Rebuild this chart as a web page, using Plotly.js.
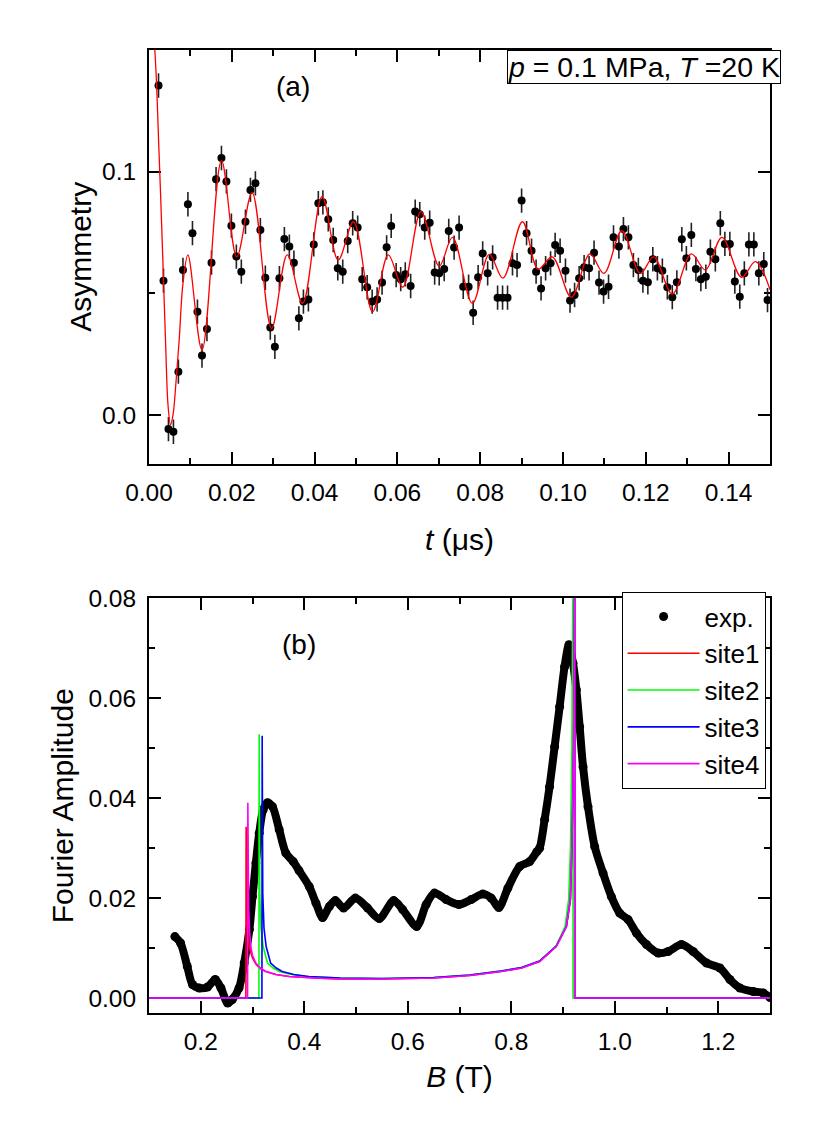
<!DOCTYPE html>
<html>
<head>
<meta charset="utf-8">
<script src="https://cdn.plot.ly/plotly-3.0.1.min.js"></script>
<style>html,body{margin:0;padding:0;background:#fff}#chart{width:830px;height:1145px}</style>
</head>
<body>
<div id="chart"></div>
<script>
// ---- Panel (a): muSR asymmetry ----
const tData = [0.0023,0.0035,0.0047,0.0059,0.0071,0.0082,0.0094,0.0105,0.0117,0.0128,0.0140,0.0151,0.0162,0.0175,0.0187,0.0199,0.0211,0.0223,0.0233,0.0245,0.0257,0.0269,0.0281,0.0293,0.0304,0.0315,0.0327,0.0339,0.0350,0.0362,0.0373,0.0385,0.0398,0.0409,0.0420,0.0433,0.0445,0.0456,0.0468,0.0480,0.0492,0.0504,0.0515,0.0527,0.0539,0.0551,0.0563,0.0574,0.0585,0.0597,0.0608,0.0619,0.0632,0.0643,0.0654,0.0666,0.0678,0.0690,0.0701,0.0713,0.0724,0.0737,0.0749,0.0759,0.0772,0.0783,0.0795,0.0806,0.0818,0.0830,0.0842,0.0854,0.0866,0.0878,0.0889,0.0900,0.0912,0.0924,0.0935,0.0947,0.0958,0.0970,0.0981,0.0993,0.1006,0.1017,0.1028,0.1039,0.1051,0.1063,0.1075,0.1087,0.1098,0.1110,0.1122,0.1135,0.1146,0.1158,0.1170,0.1182,0.1193,0.1205,0.1217,0.1228,0.1240,0.1252,0.1264,0.1275,0.1287,0.1298,0.1310,0.1321,0.1333,0.1345,0.1356,0.1368,0.1380,0.1391,0.1403,0.1415,0.1427,0.1438,0.1449,0.1461,0.1473,0.1485,0.1494];
const asymData = [0.1354,0.0552,-0.0058,-0.0069,0.0178,0.0596,0.0866,0.0747,0.0424,0.0244,0.0353,0.0626,0.0969,0.1056,0.0960,0.0778,0.0651,0.0589,0.0794,0.0925,0.0952,0.0760,0.0564,0.0359,0.0280,0.0562,0.0723,0.0692,0.0626,0.0397,0.0466,0.0475,0.0701,0.0870,0.0874,0.0804,0.0719,0.0603,0.0589,0.0715,0.0788,0.0770,0.0558,0.0525,0.0466,0.0475,0.0544,0.0689,0.0777,0.0575,0.0558,0.0578,0.0530,0.0836,0.0825,0.0770,0.0790,0.0585,0.0582,0.0600,0.0756,0.0688,0.0770,0.0527,0.0527,0.0420,0.0566,0.0664,0.0582,0.0648,0.0482,0.0482,0.0482,0.0623,0.0616,0.0881,0.0747,0.0675,0.0589,0.0520,0.0603,0.0623,0.0699,0.0675,0.0593,0.0470,0.0493,0.0562,0.0607,0.0603,0.0667,0.0544,0.0507,0.0527,0.0730,0.0692,0.0764,0.0730,0.0616,0.0596,0.0552,0.0545,0.0640,0.0603,0.0593,0.0525,0.0484,0.0545,0.0722,0.0644,0.0740,0.0600,0.0558,0.0568,0.0671,0.0640,0.0788,0.0703,0.0703,0.0548,0.0486,0.0582,0.0701,0.0701,0.0582,0.0620,0.0472];
const asymErr = 0.005;
const tFit = [0.0000,0.0014,0.0024,0.0033,0.0040,0.0046,0.0052,0.0058,0.0065,0.0073,0.0082,0.0094,0.0128,0.0175,0.0212,0.0249,0.0296,0.0334,0.0371,0.0418,0.0457,0.0494,0.0540,0.0578,0.0613,0.0657,0.0701,0.0733,0.0781,0.0822,0.0855,0.0902,0.0940,0.0974,0.1020,0.1065,0.1099,0.1142,0.1187,0.1219,0.1264,0.1310,0.1344,0.1384,0.1431,0.1465,0.1500];
const asymFit = [0.175,0.150,0.109,0.066,0.030,0.004,-0.004,0.000,0.013,0.031,0.054,0.0658,0.0267,0.1045,0.0650,0.0914,0.0356,0.0658,0.0459,0.0897,0.0637,0.0794,0.0424,0.0658,0.0525,0.0836,0.0612,0.0730,0.0459,0.0660,0.0562,0.0794,0.0599,0.0650,0.0484,0.0662,0.0582,0.0757,0.0582,0.0650,0.0497,0.0662,0.0596,0.0730,0.0566,0.0630,0.0515];

// ---- Panel (b): Fourier amplitude ----
const bExp = [0.150,0.161,0.174,0.184,0.197,0.213,0.228,0.239,0.252,0.261,0.274,0.284,0.294,0.300,0.3065,0.313,0.3206,0.329,0.3387,0.3516,0.3645,0.3787,0.390,0.4097,0.4226,0.4354,0.4484,0.460,0.476,0.4987,0.5225,0.5451,0.5728,0.5902,0.6173,0.6355,0.6516,0.6742,0.6986,0.7226,0.7451,0.7613,0.776,0.7935,0.8161,0.8355,0.8496,0.8548,0.8645,0.874,0.8838,0.8935,0.903,0.9115,0.9193,0.9258,0.9322,0.9387,0.9483,0.9613,0.9774,0.9935,1.0096,1.0258,1.042,1.0613,1.0838,1.1032,1.129,1.1515,1.1774,1.2032,1.2225,1.2419,1.2677,1.287,1.300];
const ampExp = [0.0123,0.0110,0.0063,0.0027,0.0020,0.0022,0.0037,0.0020,-0.0010,-0.0003,0.0020,0.0070,0.0137,0.0203,0.0270,0.0330,0.0377,0.0391,0.0383,0.0337,0.0290,0.0273,0.0255,0.0223,0.0190,0.0161,0.0183,0.0195,0.0180,0.0200,0.0180,0.0159,0.0195,0.0177,0.0143,0.0187,0.0210,0.0197,0.0187,0.0197,0.0208,0.0200,0.0181,0.0220,0.0263,0.0273,0.0293,0.0300,0.0357,0.0423,0.0503,0.0583,0.0663,0.0707,0.0670,0.0617,0.0543,0.0463,0.0383,0.0303,0.0250,0.0203,0.0170,0.0157,0.0130,0.0107,0.0090,0.0093,0.0107,0.0093,0.0070,0.0060,0.0037,0.0020,0.0013,0.0010,0.0001];

const bSite1 = [0.10,0.2872,0.2877,0.2890,0.2915,0.2950,0.3000,0.3065,0.3150,0.3258,0.3450,0.3710,0.4200,0.4677,0.5500,0.6500,0.7200,0.7800,0.8200,0.8548,0.8870,0.9065,0.9142,0.9173,0.9205,0.9218,0.9226,0.9227,1.30];
const ampSite1 = [0,0,0.0343,0.0170,0.0120,0.0097,0.0080,0.0068,0.0059,0.0053,0.0047,0.0043,0.0040,0.0038,0.0038,0.0040,0.0045,0.0053,0.0060,0.0073,0.0103,0.0143,0.0197,0.0303,0.050,0.090,0.090,0,0];
const bSite2 = [0.10,0.3124,0.3129,0.3140,0.3165,0.3206,0.3290,0.3400,0.3516,0.3750,0.4032,0.4677,0.5500,0.6500,0.7200,0.7800,0.8200,0.8548,0.8870,0.9040,0.9110,0.9145,0.9172,0.9185,0.9193,0.9194,1.30];
const ampSite2 = [0,0,0.0528,0.0210,0.0140,0.0103,0.0070,0.0060,0.0053,0.0047,0.0043,0.0040,0.0039,0.0041,0.0046,0.0054,0.0061,0.0074,0.0105,0.0143,0.0197,0.0303,0.050,0.090,0.090,0,0];
const bSite3 = [0.10,0.3182,0.3187,0.3198,0.3222,0.3264,0.3350,0.3460,0.3575,0.3800,0.4090,0.4700,0.5500,0.6500,0.7200,0.7800,0.8200,0.8548,0.8870,0.9065,0.9142,0.9173,0.9205,0.9218,0.9226,0.9227,1.30];
const ampSite3 = [0,0,0.0525,0.0210,0.0140,0.0103,0.0070,0.0060,0.0053,0.0047,0.0043,0.0040,0.0039,0.0041,0.0046,0.0054,0.0061,0.0074,0.0104,0.0143,0.0197,0.0303,0.050,0.090,0.090,0,0];
const bSite4 = [0.10,0.2905,0.2910,0.2925,0.2945,0.2968,0.3000,0.3065,0.3150,0.3258,0.3450,0.3710,0.4200,0.4677,0.5500,0.6500,0.7200,0.7800,0.8200,0.8548,0.8870,0.9065,0.9142,0.9173,0.9205,0.9218,0.9226,0.9227,1.30];
const ampSite4 = [0,0,0.0391,0.0180,0.0130,0.0103,0.0085,0.0070,0.0060,0.0053,0.0047,0.0043,0.0040,0.0038,0.0038,0.0040,0.0045,0.0053,0.0060,0.0073,0.0103,0.0143,0.0197,0.0303,0.050,0.090,0.090,0,0];

const siteNames = ['site1','site2','site3','site4'];
const siteColors = ['#ff0000','#00ff00','#0000ff','#ff00ff'];
const siteB = [bSite1,bSite2,bSite3,bSite4];
const siteAmp = [ampSite1,ampSite2,ampSite3,ampSite4];

const FONT = 'Liberation Sans, Arial, Helvetica, sans-serif';

const traces = [
  {x:tData, y:asymData, xaxis:'x', yaxis:'y', mode:'markers', type:'scatter', showlegend:false,
   marker:{color:'#000', size:8},
   error_y:{type:'constant', value:asymErr, width:0, thickness:1.6, color:'#222'}},
  {x:tFit, y:asymFit, xaxis:'x', yaxis:'y', mode:'lines', type:'scatter', showlegend:false,
   line:{color:'#ff0000', width:1.3, shape:'spline', smoothing:1}},
  {x:bExp, y:ampExp, xaxis:'x2', yaxis:'y2', mode:'markers', type:'scatter', name:'exp.',
   marker:{color:'#000', size:9}},
  {x:bExp, y:ampExp, xaxis:'x2', yaxis:'y2', mode:'lines', type:'scatter', showlegend:false,
   line:{color:'#000', width:8, shape:'spline', smoothing:0.8}}
];
for (let i=0;i<4;i++){
  traces.push({x:siteB[i], y:siteAmp[i], xaxis:'x2', yaxis:'y2', mode:'lines', type:'scatter',
    name:siteNames[i], line:{color:siteColors[i], width:1.6}});
}

const axBase = {showline:true, linecolor:'#000', linewidth:2, mirror:'ticks', ticks:'inside',
  ticklen:12, tickwidth:2, tickcolor:'#000', showgrid:false, zeroline:false, ticklabelstandoff:6,
  layer:'below traces', tickfont:{family:FONT, size:24.5, color:'#000'}};
const minorBase = {ticklen:6, tickwidth:2, ticks:'inside', tickcolor:'#000'};

const layout = {
  width:830, height:1145,
  margin:{l:149.3, r:59.5, t:49.5, b:131.7},
  paper_bgcolor:'#fff', plot_bgcolor:'#fff',
  font:{family:FONT, color:'#000'},
  xaxis: Object.assign({}, axBase, {anchor:'y', domain:[0,1], range:[0,0.15], tick0:0, dtick:0.02, tickformat:'.2f',
    minor:Object.assign({dtick:0.01}, minorBase),
    title:{text:'<i>t</i> (μs)', font:{family:FONT, size:30}, standoff:24}}),
  yaxis: Object.assign({}, axBase, {anchor:'x', domain:[0.5705,1], range:[-0.02,0.15], tick0:0, dtick:0.1, tickformat:'.1f',
    minor:Object.assign({dtick:0.05}, minorBase),
    title:{text:'Asymmetry', font:{family:FONT, size:30}, standoff:2}}),
  xaxis2: Object.assign({}, axBase, {anchor:'y2', domain:[0,1], range:[0.1,1.3], tick0:0.2, dtick:0.2, tickformat:'.1f',
    minor:Object.assign({dtick:0.1}, minorBase),
    title:{text:'<i>B</i> (T)', font:{family:FONT, size:30}, standoff:12}}),
  yaxis2: Object.assign({}, axBase, {anchor:'x2', domain:[0,0.4306], range:[-0.003,0.08], tick0:0, dtick:0.02, tickformat:'.2f',
    minor:Object.assign({dtick:0.01}, minorBase),
    title:{text:'Fourier Amplitude', font:{family:FONT, size:30}, standoff:6}}),
  legend:{x:0.761, y:0.4371, xanchor:'left', yanchor:'top', bgcolor:'#fff', bordercolor:'#000', borderwidth:1,
    font:{family:FONT, size:26, color:'#000'}, itemwidth:72},
  annotations:[
    {x:0.0347, y:0.1348, xref:'x', yref:'y', text:'(a)', showarrow:false, font:{family:FONT, size:28, color:'#000'}},
    {x:0.390, y:0.0707, xref:'x2', yref:'y2', text:'(b)', showarrow:false, font:{family:FONT, size:28, color:'#000'}},
    {x:1.017, y:1, xref:'paper', yref:'paper', xanchor:'right', yanchor:'top',
     text:'<i>p</i> = 0.1 MPa, <i>T</i> =20 K', showarrow:false, bgcolor:'#fff', bordercolor:'#000', borderwidth:1, borderpad:0,
     font:{family:FONT, size:28.5, color:'#000'}}
  ]
};

Plotly.newPlot('chart', traces, layout, {staticPlot:true, displayModeBar:false});
</script>
</body>
</html>
